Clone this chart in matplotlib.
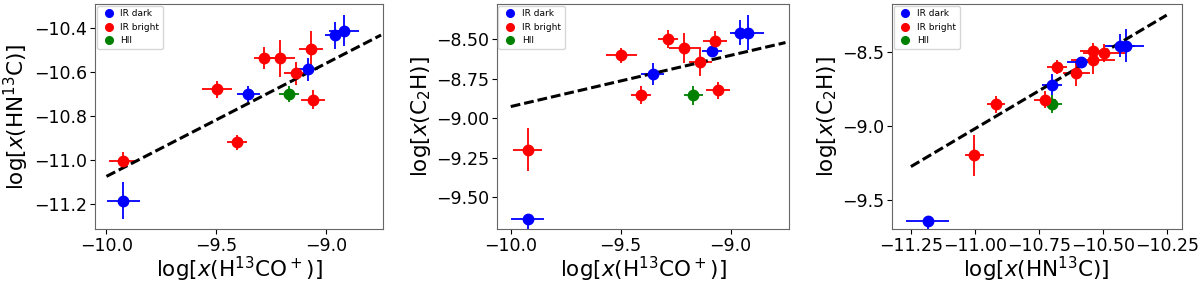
import numpy as np
import matplotlib
matplotlib.use("Agg")
import matplotlib.pyplot as plt
from matplotlib.lines import Line2D

# source values (same 14 sources in all three panels)
groups = ["dark", "bright", "bright", "bright", "dark", "bright", "bright",
          "bright", "hii", "dark", "bright", "bright", "dark", "dark"]
h13cop = np.array([-9.923, -9.923, -9.497, -9.407, -9.355, -9.283, -9.212,
                   -9.138, -9.169, -9.084, -9.069, -9.058, -8.958, -8.919])
h13cop_err = np.array([0.075, 0.066, 0.070, 0.045, 0.052, 0.045, 0.068,
                       0.053, 0.045, 0.045, 0.055, 0.055, 0.045, 0.070])
hn13c = np.array([-11.185, -11.002, -10.678, -10.918, -10.699, -10.537, -10.537,
                  -10.604, -10.699, -10.586, -10.496, -10.725, -10.432, -10.410])
hn13c_err = np.array([0.085, 0.038, 0.040, 0.034, 0.038, 0.050, 0.086,
                      0.053, 0.038, 0.053, 0.082, 0.043, 0.060, 0.070])
c2h = np.array([-9.639, -9.200, -8.602, -8.855, -8.721, -8.498, -8.556,
                -8.641, -8.855, -8.572, -8.509, -8.823, -8.458, -8.458])
c2h_err = np.array([0.06, 0.137, 0.047, 0.057, 0.068, 0.057, 0.095,
                    0.093, 0.060, 0.025, 0.063, 0.055, 0.077, 0.110])
c2h_uplim = np.array([True] + [False] * 13)

# fitted relations (slope, intercept, x range)
fit1 = (0.515, -5.924, -10.0, -8.75)
fit2 = (0.324, -5.686, -10.0, -8.75)
fit3 = (1.022, 2.2225, -11.25, -10.25)

colors = {"dark": "blue", "bright": "red", "hii": "green"}
names = {"dark": "IR dark", "bright": "IR bright", "hii": "HII"}

lab_h13cop = r'$\log[x(\mathrm{H}^{13}\mathrm{CO}^+)]$'
lab_hn13c = r'$\log[x(\mathrm{HN}^{13}\mathrm{C})]$'
lab_c2h = r'$\log[x(\mathrm{C_2H})]$'

fig = plt.figure(figsize=(12, 2.85), dpi=100)
ax1 = fig.add_axes([0.0792, 0.1954, 0.240, 0.7905])
ax2 = fig.add_axes([0.4139, 0.1954, 0.2438, 0.7905])
ax3 = fig.add_axes([0.7431, 0.1954, 0.2417, 0.7905])


def panel(ax, x, xe, y, ye, fit, uplim=None):
    for i in range(len(x)):
        c = colors[groups[i]]
        up = bool(uplim[i]) if uplim is not None else False
        if up:
            ax.errorbar(x[i], y[i], xerr=xe[i], yerr=ye[i], uplims=True,
                        fmt='o', color=c, ms=7.5, elinewidth=1.3, capsize=0)
        else:
            ax.errorbar(x[i], y[i], xerr=xe[i], yerr=ye[i], fmt='o',
                        color=c, ms=7.5, elinewidth=1.3, capsize=0)
    a, b, x0, x1 = fit
    xx = np.array([x0, x1])
    ax.plot(xx, a * xx + b, ls=(0, (3.2, 1.3)), color='black', lw=2.2)
    handles = [Line2D([], [], marker='o', ls='', color=colors[k], ms=5.5,
                      label=names[k]) for k in ["dark", "bright", "hii"]]
    ax.legend(handles=handles, loc='upper left', fontsize=6.5,
              borderaxespad=0.2, handletextpad=0.4, labelspacing=0.5,
              handlelength=1.8, borderpad=0.4)
    ax.tick_params(labelsize=12.5, pad=2)
    for s in ax.spines.values():
        s.set_color('0.4')


panel(ax1, h13cop, h13cop_err, hn13c, hn13c_err, fit1)
ax1.set_xlim(-10.052, -8.741)
ax1.set_ylim(-11.315, -10.289)
ax1.set_xticks([-10.0, -9.5, -9.0])
ax1.set_yticks([-11.2, -11.0, -10.8, -10.6, -10.4])
ax1.set_xlabel(lab_h13cop, fontsize=15.5, labelpad=0)
ax1.set_ylabel(lab_hn13c, fontsize=15.5, labelpad=2)

panel(ax2, h13cop, h13cop_err, c2h, c2h_err, fit2, c2h_uplim)
ax2.set_xlim(-10.064, -8.733)
ax2.set_ylim(-9.703, -8.277)
ax2.set_xticks([-10.0, -9.5, -9.0])
ax2.set_yticks([-9.5, -9.25, -9.0, -8.75, -8.5])
ax2.set_yticklabels(['−9.50', '−9.25', '−9.00', '−8.75', '−8.50'])
ax2.set_xlabel(lab_h13cop, fontsize=15.5, labelpad=0)
ax2.set_ylabel(lab_c2h, fontsize=15.5, labelpad=2)

panel(ax3, hn13c, hn13c_err, c2h, c2h_err, fit3, c2h_uplim)
ax3.set_xlim(-11.325, -10.191)
ax3.set_ylim(-9.698, -8.178)
ax3.set_xticks([-11.25, -11.0, -10.75, -10.5, -10.25])
ax3.set_xticklabels(['−11.25', '−11.00', '−10.75', '−10.50', '−10.25'])
ax3.set_yticks([-9.5, -9.0, -8.5])
ax3.set_xlabel(lab_hn13c, fontsize=15.5, labelpad=0)
ax3.set_ylabel(lab_c2h, fontsize=15.5, labelpad=2)

fig.savefig("out.png", dpi=100)
